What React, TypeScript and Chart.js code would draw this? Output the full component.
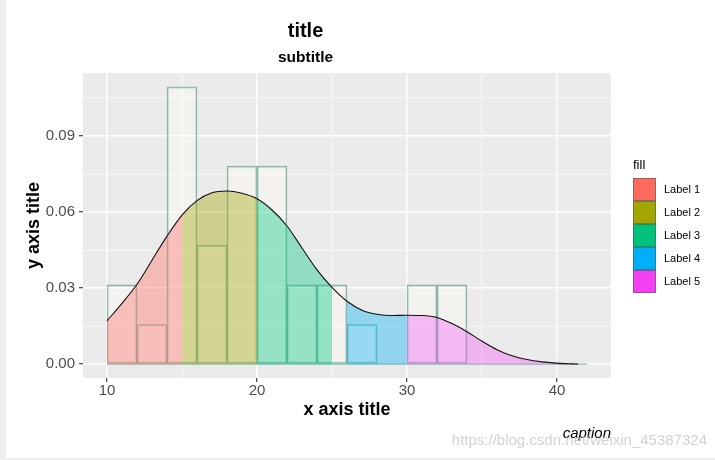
import React, { useEffect, useRef } from "react";
import { Chart, registerables } from "chart.js";

Chart.register(...registerables);

// ---------- data ----------
const binStarts = [10, 12, 14, 16, 18, 20, 22, 24, 26, 28, 30, 32, 34, 36, 38, 40];
const binCounts = [2, 1, 7, 3, 5, 5, 2, 2, 1, 0, 2, 2, 0, 0, 0, 0];
const binWidth = 2;
const sampleSize = 32;

const densityX = [10, 11, 12, 13, 14, 15, 16, 17, 18, 19, 20, 21, 22, 23, 24, 25, 26, 27, 28, 29, 30, 31, 32, 33, 34, 35, 36, 37, 38, 39, 40, 41, 41.4];
const densityY = [0.0171, 0.024, 0.0315, 0.041, 0.0505, 0.0588, 0.0645, 0.0676, 0.0683, 0.0674, 0.0652, 0.0608, 0.0545, 0.0458, 0.0372, 0.0303, 0.0248, 0.0213, 0.0197, 0.0192, 0.0193, 0.0192, 0.0184, 0.016, 0.0128, 0.009, 0.0057, 0.0033, 0.0018, 0.0009, 0.0004, 0.0001, 0];

const fillLabels = ["Label 1", "Label 2", "Label 3", "Label 4", "Label 5"];
const labelFrom = [10, 15, 20, 26, 30];
const labelTo = [15, 20, 25, 30, 41.4];
const legendColors = ["#FF695E", "#A3A500", "#00C27B", "#00AFF6", "#F340F2"];
const areaColors = [
  "rgba(255,120,110,0.42)",
  "rgba(170,172,20,0.42)",
  "rgba(0,200,128,0.38)",
  "rgba(0,176,246,0.38)",
  "rgba(246,90,246,0.38)",
];

const xMajorTicks = [10, 20, 30, 40];
const xMinorTicks = [15, 25, 35];
const yMajorTicks = [0, 0.03, 0.06, 0.09];
const yMinorTicks = [0.015, 0.045, 0.075, 0.105];

const FONT = "'Liberation Sans', Arial, Helvetica, sans-serif";

const decorPlugin = {
  id: "decor",
  beforeDraw(chart: any) {
    const { ctx, chartArea: a } = chart;
    ctx.save();
    ctx.fillStyle = "#EFEFEF";
    ctx.fillRect(0, 0, 6, chart.height);
    ctx.fillRect(0, chart.height - 2, chart.width, 2);
    ctx.fillStyle = "#EBEBEB";
    ctx.fillRect(a.left, a.top, a.right - a.left, a.bottom - a.top);
    ctx.restore();
  },
  afterDraw(chart: any) {
    const { ctx, chartArea: a } = chart;
    ctx.save();
    // legend
    const keyW = 23;
    const keyH = 23;
    const titleH = 20;
    const blockH = titleH + keyH * fillLabels.length;
    const top = (a.top + a.bottom) / 2 - blockH / 2;
    const keyX = a.right + 22;
    ctx.textBaseline = "middle";
    ctx.textAlign = "left";
    ctx.fillStyle = "#000000";
    ctx.font = `13px ${FONT}`;
    ctx.fillText("fill", keyX, top + 7);
    fillLabels.forEach((lab, i) => {
      const y = top + titleH + i * keyH;
      ctx.fillStyle = legendColors[i];
      ctx.fillRect(keyX, y, keyW, keyH);
      ctx.strokeStyle = "rgba(60,95,85,0.55)";
      ctx.lineWidth = 1;
      ctx.strokeRect(keyX + 0.5, y + 0.5, keyW - 1, keyH - 1);
      ctx.fillStyle = "#000000";
      ctx.font = `11px ${FONT}`;
      ctx.fillText(lab, keyX + keyW + 8, y + keyH / 2);
    });
    // caption
    ctx.textAlign = "right";
    ctx.font = `italic 15px ${FONT}`;
    ctx.fillStyle = "#000000";
    ctx.fillText("caption", a.right, 434);
    // watermark
    ctx.font = `15px ${FONT}`;
    ctx.fillStyle = "rgba(195,195,195,0.75)";
    ctx.fillText("https://blog.csdn.net/weixin_45387324", 707, 441);
    ctx.restore();
  },
};

export default function App() {
  const ref = useRef<HTMLCanvasElement | null>(null);

  useEffect(() => {
    document.body.style.margin = "0";
    const canvas = ref.current;
    if (!canvas) return;

    const histData = binStarts.map((s, i) => ({
      x: s + binWidth / 2,
      y: binCounts[i] / (sampleSize * binWidth),
    }));
    const histMax = Math.max(...histData.map((d) => d.y));
    const xLo = binStarts[0];
    const xHi = binStarts[binStarts.length - 1] + binWidth;
    const xPad = (xHi - xLo) * 0.05;
    const yPad = histMax * 0.05;

    const densityPts = densityX.map((x, i) => ({ x, y: densityY[i] }));

    const areaSets = fillLabels.map((lab, i) => ({
      type: "line" as const,
      label: lab,
      data: densityPts.filter((p) => p.x >= labelFrom[i] && p.x <= labelTo[i]),
      fill: "origin",
      backgroundColor: areaColors[i],
      borderWidth: 0,
      borderColor: "rgba(0,0,0,0)",
      pointRadius: 0,
      cubicInterpolationMode: "monotone" as const,
      order: 2,
    }));

    const isMajorX = (v: number) => xMajorTicks.includes(v);
    const isMajorY = (v: number) => yMajorTicks.includes(v);

    const chart = new Chart(canvas, {
      type: "line",
      data: {
        datasets: [
          {
            type: "bar",
            label: "hist",
            data: histData,
            backgroundColor: "rgba(255,253,245,0.42)",
            borderColor: "rgba(40,130,105,0.5)",
            borderWidth: 1.3,
            borderSkipped: false,
            barPercentage: 1,
            categoryPercentage: 1,
            order: 4,
          } as any,
          {
            type: "line",
            label: "base",
            data: [
              { x: xLo, y: 0 },
              { x: xHi, y: 0 },
            ],
            borderColor: "rgba(40,130,105,0.5)",
            borderWidth: 1.3,
            pointRadius: 0,
            fill: false,
            order: 3,
          },
          ...(areaSets as any[]),
          {
            type: "line",
            label: "density",
            data: densityPts,
            borderColor: "#111111",
            borderWidth: 1.1,
            pointRadius: 0,
            fill: false,
            cubicInterpolationMode: "monotone",
            order: 1,
          },
        ],
      },
      options: {
        animation: false,
        responsive: false,
        layout: { padding: { left: 0, right: 104, top: 0, bottom: 0 } },
        plugins: {
          legend: { display: false },
          tooltip: { enabled: false },
          title: {
            display: true,
            text: "title",
            color: "#000000",
            font: { family: FONT, size: 20, weight: "bold" },
            padding: { top: 19.4, bottom: 0 },
          },
          subtitle: {
            display: true,
            text: "subtitle",
            color: "#000000",
            font: { family: FONT, size: 15.5, weight: "bold" },
            padding: { top: 4.6, bottom: 6.4 },
          },
        },
        scales: {
          x: {
            type: "linear",
            min: xLo - xPad,
            max: xHi + xPad,
            offset: false,
            afterBuildTicks: (scale: any) => {
              scale.ticks = [...xMajorTicks, ...xMinorTicks]
                .sort((p, q) => p - q)
                .map((v) => ({ value: v }));
            },
            afterFit: (scale: any) => {
              scale.height = 82;
            },
            grid: {
              offset: false,
              color: "#FFFFFF",
              lineWidth: (c: any) => (isMajorX(c.tick?.value) ? 1.4 : 0.7),
              tickColor: (c: any) => (isMajorX(c.tick?.value) ? "#333333" : "rgba(0,0,0,0)"),
              tickWidth: 1.1,
              tickLength: 4,
              drawTicks: true,
            },
            border: { display: false },
            ticks: {
              autoSkip: false,
              maxRotation: 0,
              padding: 0,
              color: "#4D4D4D",
              font: { family: FONT, size: 15 },
              callback: (v: any) => (isMajorX(Number(v)) ? String(v) : ""),
            },
            title: {
              display: true,
              text: "x axis title",
              color: "#000000",
              font: { family: FONT, size: 18, weight: "bold" },
              padding: { top: 0, bottom: 39.2 },
            },
          },
          y: {
            type: "linear",
            min: -yPad,
            max: histMax + yPad,
            afterBuildTicks: (scale: any) => {
              scale.ticks = [...yMajorTicks, ...yMinorTicks]
                .sort((p, q) => p - q)
                .map((v) => ({ value: v }));
            },
            afterFit: (scale: any) => {
              scale.width = 83;
            },
            grid: {
              color: "#FFFFFF",
              lineWidth: (c: any) => (isMajorY(c.tick?.value) ? 1.4 : 0.7),
              tickColor: (c: any) => (isMajorY(c.tick?.value) ? "#333333" : "rgba(0,0,0,0)"),
              tickWidth: 1.1,
              tickLength: 4,
              drawTicks: true,
            },
            border: { display: false },
            ticks: {
              autoSkip: false,
              padding: 4,
              color: "#4D4D4D",
              font: { family: FONT, size: 15 },
              callback: (v: any) => (isMajorY(Number(v)) ? Number(v).toFixed(2) : ""),
            },
            title: {
              display: true,
              text: "y axis title",
              color: "#000000",
              font: { family: FONT, size: 18, weight: "bold" },
              padding: { top: 23.2, bottom: 0 },
            },
          },
        },
      },
      plugins: [decorPlugin],
    });

    return () => chart.destroy();
  }, []);

  return (
    <div style={{ width: 715, height: 460, background: "#FFFFFF" }}>
      <canvas ref={ref} width={715} height={460} style={{ display: "block" }} />
    </div>
  );
}
